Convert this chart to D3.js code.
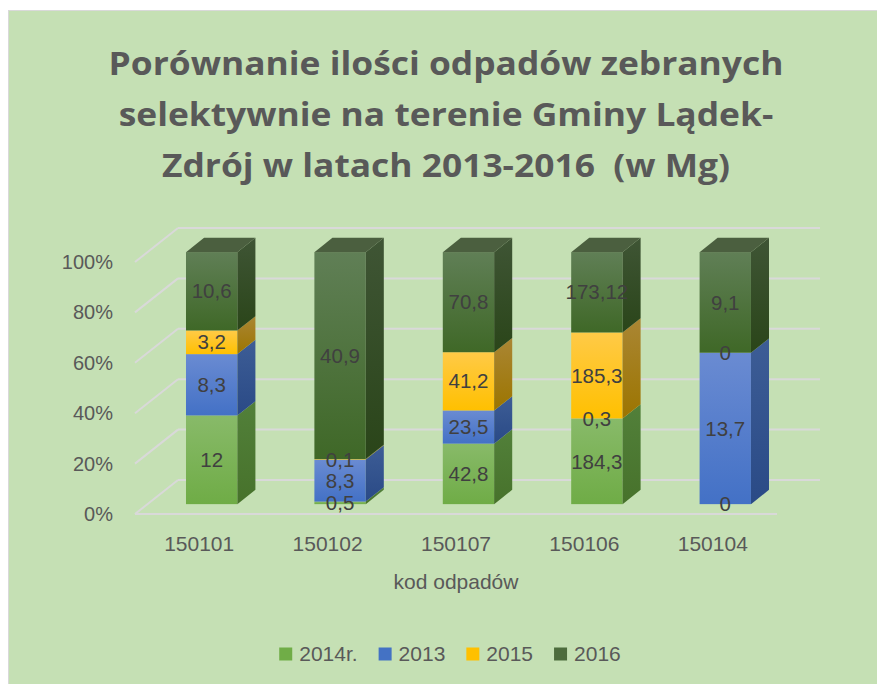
<!DOCTYPE html>
<html>
<head>
<meta charset="utf-8">
<script src="https://cdn.jsdelivr.net/npm/d3@7"></script>
<style>
  body { margin: 0; background: #fff; }
  svg { display: block; }
</style>
</head>
<body>
<div id="chart"></div>
<script>
// data
var categories = ['150101', '150102', '150107', '150106', '150104'];
var seriesNames = ['2014r.', '2013', '2015', '2016'];
var v2014 = [12, 0.5, 42.8, 184.3, 0];
var v2013 = [8.3, 8.3, 23.5, 0.3, 13.7];
var v2015 = [3.2, 0.1, 41.2, 185.3, 0];
var v2016 = [10.6, 40.9, 70.8, 173.12, 9.1];
var yTicks = [0, 0.2, 0.4, 0.6, 0.8, 1];
var titleLines = ['Porównanie ilości odpadów zebranych', 'selektywnie na terenie Gminy Lądek-', 'Zdrój w latach 2013-2016  (w Mg)'];
var axisTitle = 'kod odpadów';

var width = 877, height = 684;
var colors = {
  '2014r.': {front: ['#88ba69', '#6fac46'], side: ['#52803a', '#47722b'], flat: '#70ad47'},
  '2013':   {front: ['#6a8bd2', '#4371c6'], side: ['#3d5d96', '#2a4a86'], flat: '#4472c4'},
  '2015':   {front: ['#ffca47', '#ffc000'], side: ['#aa8634', '#9c7500'], flat: '#ffc000'},
  '2016':   {front: ['#607f56', '#3f6827'], side: ['#3f5535', '#2a4519'], flat: '#4d6c3d'}
};

var rows = categories.map(function(c, i) {
  return {cat: c, '2014r.': v2014[i], '2013': v2013[i], '2015': v2015[i], '2016': v2016[i]};
});

var svg = d3.select('#chart').append('svg')
    .attr('width', width)
    .attr('height', height)
    .style('font-family', '"Liberation Sans", Arial, sans-serif');

// chart area
svg.append('rect')
    .attr('x', 8.5).attr('y', 10.5)
    .attr('width', width).attr('height', height)
    .attr('fill', '#c5e0b4')
    .attr('stroke', '#d9d9d9');

var defs = svg.append('defs');
function grad(id, c0, c1) {
  var g = defs.append('linearGradient').attr('id', id)
      .attr('x1', 0).attr('y1', 0).attr('x2', 0).attr('y2', 1);
  g.append('stop').attr('offset', '0%').attr('stop-color', c0);
  g.append('stop').attr('offset', '100%').attr('stop-color', c1);
}
seriesNames.forEach(function(s, i) {
  grad('gf' + i, colors[s].front[0], colors[s].front[1]);
  grad('gs' + i, colors[s].side[0], colors[s].side[1]);
});

// title - fit the first line to the reference width
var title = svg.append('g').attr('fill', '#595959').attr('font-weight', 'bold')
    .attr('text-anchor', 'middle').attr('font-size', 32)
    .style('font-family', '"Open Sans", "Liberation Sans", sans-serif');
title.selectAll('text').data(titleLines).join('text')
    .attr('xml:space', 'preserve')
    .attr('x', 0)
    .attr('y', function(d, i) { return i * 51; })
    .text(function(d) { return d; });
var w0 = title.select('text').node().getComputedTextLength();
var sx = 675 / w0;
title.attr('transform', 'translate(446,75) scale(' + sx + ',1)');

// 3D projection
var DX = 43, DY = 34;
var x = d3.scaleBand().domain(categories).range([135, 777]).paddingInner(0.6).paddingOuter(0.3);
var y = d3.scaleLinear().domain([0, 1]).range([514, 262]);
var z0 = 0.29, z1 = 0.71;
function P(u, v, z) { return [u + z * DX, y(v) - z * DY]; }
function poly(pts) { return pts.map(function(p) { return p.join(','); }).join(' '); }

// walls / gridlines
var grid = svg.append('g').attr('stroke', '#d9d9d9').attr('stroke-width', 2).attr('fill', 'none');
var xl = x.range()[0], xr = x.range()[1];
grid.selectAll('.back').data(yTicks).join('line')
    .attr('x1', function(d) { return P(xl, d, 1)[0]; })
    .attr('y1', function(d) { return P(xl, d, 1)[1]; })
    .attr('x2', function(d) { return P(xr, d, 1)[0]; })
    .attr('y2', function(d) { return P(xr, d, 1)[1]; });
grid.selectAll('.side').data(yTicks).join('line')
    .attr('x1', function(d) { return P(xl, d, 0)[0]; })
    .attr('y1', function(d) { return P(xl, d, 0)[1]; })
    .attr('x2', function(d) { return P(xl, d, 1)[0]; })
    .attr('y2', function(d) { return P(xl, d, 1)[1]; });
grid.append('line')
    .attr('x1', P(xl, 0, 0)[0]).attr('y1', P(xl, 0, 0)[1])
    .attr('x2', P(xr, 0, 0)[0]).attr('y2', P(xr, 0, 0)[1]);

// y axis labels
svg.append('g').attr('fill', '#595959').attr('font-size', 20).attr('text-anchor', 'end')
  .selectAll('text').data(yTicks).join('text')
    .attr('x', 113)
    .attr('y', function(d) { return y(d); })
    .attr('dy', '0.35em')
    .text(d3.format('.0%'));

// stacked 100% bars
var stack = d3.stack().keys(seriesNames).offset(d3.stackOffsetExpand);
var layers = stack(rows);
var bars = svg.append('g');
var labels = [];
categories.forEach(function(c, ci) {
  var u0 = x(c), u1 = x(c) + x.bandwidth();
  layers.forEach(function(layer, si) {
    var v0 = layer[ci][0], v1 = layer[ci][1];
    var val = layer[ci].data[layer.key];
    var pf0 = P(u0, v1, z0), pf1 = P(u1, v0, z0);
    labels.push({x: (pf0[0] + pf1[0]) / 2, y: (pf0[1] + pf1[1]) / 2, t: String(val).replace('.', ',')});
    if (v1 - v0 <= 0) return;
    bars.append('rect')
        .attr('x', pf0[0]).attr('y', pf0[1])
        .attr('width', pf1[0] - pf0[0]).attr('height', pf1[1] - pf0[1])
        .attr('fill', 'url(#gf' + si + ')');
    bars.append('polygon')
        .attr('points', poly([P(u1, v0, z0), P(u1, v0, z1), P(u1, v1, z1), P(u1, v1, z0)]))
        .attr('fill', 'url(#gs' + si + ')');
    if (v1 >= 0.9999) {
      bars.append('polygon')
          .attr('points', poly([P(u0, 1, z0), P(u1, 1, z0), P(u1, 1, z1), P(u0, 1, z1)]))
          .attr('fill', '#4b5f3f');
    }
  });
});

// data labels
svg.append('g').attr('fill', '#404040').attr('font-size', 20.5).attr('text-anchor', 'middle')
  .selectAll('text').data(labels).join('text')
    .attr('x', function(d) { return d.x; })
    .attr('y', function(d) { return d.y; })
    .attr('dy', '0.35em')
    .text(function(d) { return d.t; });

// category labels
svg.append('g').attr('fill', '#595959').attr('font-size', 21).attr('text-anchor', 'middle')
  .selectAll('text').data(categories).join('text')
    .attr('x', function(d) { return x(d) + x.bandwidth() / 2; })
    .attr('y', 544)
    .attr('dy', '0.35em')
    .text(function(d) { return d; });

svg.append('text')
    .attr('x', (xl + xr) / 2).attr('y', 582).attr('dy', '0.35em')
    .attr('text-anchor', 'middle').attr('fill', '#595959').attr('font-size', 21)
    .text(axisTitle);

// legend
var legend = svg.append('g').attr('font-size', 21).attr('fill', '#595959');
var items = legend.selectAll('g').data(seriesNames).join('g');
items.append('rect').attr('width', 13).attr('height', 13).attr('y', -6.5)
    .attr('fill', function(d) { return colors[d].flat; });
items.append('text').attr('x', 20).attr('dy', '0.35em').text(function(d) { return d; });
var pos = 0, offs = [];
items.each(function() {
  offs.push(pos);
  pos += 20 + d3.select(this).select('text').node().getComputedTextLength() + 21;
});
var total = pos - 21;
items.attr('transform', function(d, i) { return 'translate(' + (450 - total / 2 + offs[i]) + ',654)'; });
</script>
</body>
</html>
